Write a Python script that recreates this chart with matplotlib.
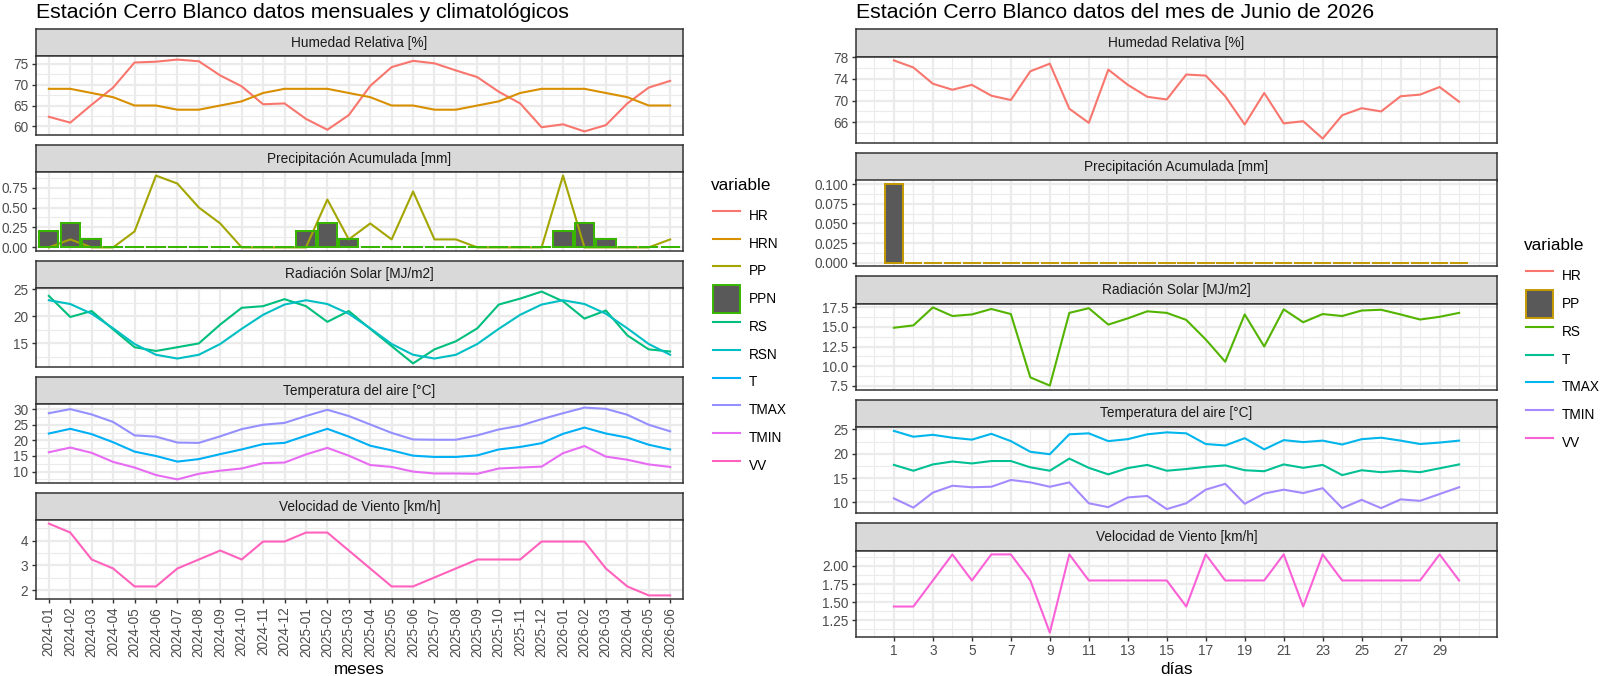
import numpy as np
import matplotlib
matplotlib.use("Agg")
import matplotlib.pyplot as plt
from matplotlib.lines import Line2D
from matplotlib.patches import Patch
from matplotlib.ticker import MultipleLocator, AutoMinorLocator, FormatStrFormatter, FixedLocator

plt.rcParams['font.family'] = ['Liberation Sans', 'DejaVu Sans']

W, H = 1600, 676

# ===== datos mensuales =====
meses = ['2024-01', '2024-02', '2024-03', '2024-04', '2024-05', '2024-06',
         '2024-07', '2024-08', '2024-09', '2024-10', '2024-11', '2024-12',
         '2025-01', '2025-02', '2025-03', '2025-04', '2025-05', '2025-06',
         '2025-07', '2025-08', '2025-09', '2025-10', '2025-11', '2025-12',
         '2026-01', '2026-02', '2026-03', '2026-04', '2026-05', '2026-06']
hr_m = [62.3, 60.9, 65.2, 69.3, 75.3, 75.5, 76.0, 75.6, 72.2, 69.6, 65.3, 65.5,
        61.8, 59.2, 62.7, 69.7, 74.2, 75.7, 75.1, 73.4, 71.8, 68.3, 65.5, 59.8,
        60.5, 58.8, 60.3, 65.5, 69.3, 70.9]
hrn_m = [69, 69, 68, 67, 65, 65, 64, 64, 65, 66, 68, 69,
         69, 69, 68, 67, 65, 65, 64, 64, 65, 66, 68, 69,
         69, 69, 68, 67, 65, 65]
pp_m = [0, 0.1, 0, 0, 0.2, 0.9, 0.8, 0.5, 0.3, 0, 0, 0,
        0, 0.6, 0.1, 0.3, 0.1, 0.7, 0.1, 0.1, 0, 0, 0, 0,
        0.9, 0, 0, 0, 0, 0.1]
ppn_m = [0.2, 0.3, 0.1, 0, 0, 0, 0, 0, 0, 0, 0, 0,
         0.2, 0.3, 0.1, 0, 0, 0, 0, 0, 0, 0, 0, 0,
         0.2, 0.3, 0.1, 0, 0, 0]
rs_m = [23.8, 19.9, 21.0, 17.6, 14.3, 13.6, 14.3, 15.0, 18.5, 21.6, 21.9, 23.2,
        21.9, 19.0, 21.0, 17.7, 14.5, 11.3, 13.9, 15.4, 17.8, 22.2, 23.3, 24.6,
        22.8, 19.6, 21.1, 16.5, 13.9, 13.5]
rsn_m = [23.0, 22.3, 20.5, 17.8, 14.9, 12.9, 12.2, 12.9, 14.9, 17.7, 20.3, 22.2,
         23.0, 22.3, 20.5, 17.8, 14.9, 12.9, 12.2, 12.9, 14.9, 17.7, 20.3, 22.2,
         23.0, 22.3, 20.5, 17.8, 14.9, 12.9]
t_m = [22.2, 23.7, 22.0, 19.4, 16.4, 15.0, 13.2, 14.0, 15.6, 17.1, 18.8, 19.2,
       21.5, 23.7, 21.2, 18.3, 16.8, 15.1, 14.7, 14.7, 15.2, 17.1, 17.9, 19.1,
       22.1, 24.1, 22.2, 20.9, 18.6, 17.1]
tmax_m = [28.7, 30.0, 28.3, 25.9, 21.6, 21.2, 19.3, 19.2, 21.3, 23.6, 25.0, 25.6,
          27.8, 29.8, 27.8, 25.1, 22.4, 20.3, 20.2, 20.2, 21.6, 23.5, 24.7, 26.8,
          28.7, 30.5, 30.1, 28.2, 25.0, 22.9]
tmin_m = [16.2, 17.7, 16.0, 13.1, 11.3, 8.9, 7.5, 9.3, 10.3, 11.0, 12.7, 12.9,
          15.5, 17.6, 15.1, 12.1, 11.5, 10.0, 9.4, 9.4, 9.3, 11.0, 11.3, 11.6,
          15.9, 18.2, 14.8, 13.8, 12.3, 11.5]
vv_m = [4.68, 4.32, 3.24, 2.88, 2.16, 2.16, 2.88, 3.24, 3.60, 3.24, 3.96, 3.96,
        4.32, 4.32, 3.60, 2.88, 2.16, 2.16, 2.52, 2.88, 3.24, 3.24, 3.24, 3.96,
        3.96, 3.96, 2.88, 2.16, 1.80, 1.80]

# ===== datos diarios (junio 2026) =====
dias = list(range(1, 31))
hr_d = [77.4, 76.1, 73.1, 72.0, 72.9, 70.9, 70.1, 75.4, 76.8, 68.5, 65.9, 75.7,
        72.9, 70.7, 70.2, 74.8, 74.6, 70.8, 65.6, 71.4, 65.8, 66.2, 63.0, 67.3,
        68.6, 68.0, 70.8, 71.1, 72.5, 69.8]
pp_d = [0.1, 0, 0, 0, 0, 0, 0, 0, 0, 0, 0, 0, 0, 0, 0,
        0, 0, 0, 0, 0, 0, 0, 0, 0, 0, 0, 0, 0, 0, 0]
rs_d = [14.9, 15.2, 17.5, 16.4, 16.6, 17.3, 16.65, 8.55, 7.5, 16.8, 17.4, 15.3,
        16.1, 17.0, 16.8, 15.9, 13.4, 10.55, 16.6, 12.5, 17.25, 15.6, 16.65, 16.4,
        17.1, 17.2, 16.6, 15.95, 16.3, 16.8]
t_d = [17.7, 16.5, 17.8, 18.4, 18.0, 18.5, 18.5, 17.2, 16.5, 19.0, 17.1, 15.75,
       17.05, 17.7, 16.5, 16.85, 17.3, 17.6, 16.6, 16.4, 17.8, 17.1, 17.7, 15.6,
       16.6, 16.2, 16.5, 16.2, 17.0, 17.8]
tmax_d = [24.7, 23.5, 23.9, 23.3, 22.9, 24.1, 22.6, 20.4, 19.9, 24.0, 24.2, 22.6,
          23.0, 24.0, 24.4, 24.2, 22.0, 21.7, 23.2, 20.9, 22.8, 22.4, 22.7, 21.9,
          23.0, 23.3, 22.7, 22.0, 22.3, 22.7]
tmin_d = [10.8, 8.9, 12.0, 13.4, 13.1, 13.2, 14.6, 14.1, 13.2, 14.1, 9.8, 9.0,
          11.0, 11.3, 8.6, 9.8, 12.6, 13.8, 9.7, 11.8, 12.6, 11.9, 12.9, 8.8,
          10.5, 8.8, 10.6, 10.3, 11.7, 13.1]
vv_d = [1.44, 1.44, 1.80, 2.16, 1.80, 2.16, 2.16, 1.80, 1.08, 2.16, 1.80, 1.80,
        1.80, 1.80, 1.80, 1.44, 2.16, 1.80, 1.80, 1.80, 2.16, 1.44, 2.16, 1.80,
        1.80, 1.80, 1.80, 1.80, 2.16, 1.80]

# ===== colores (paleta hue de ggplot) =====
COL_M = {'HR': '#F8766D', 'HRN': '#D89000', 'PP': '#A3A500', 'PPN': '#39B600',
         'RS': '#00BF7D', 'RSN': '#00BFC4', 'T': '#00B0F6', 'TMAX': '#9590FF',
         'TMIN': '#E76BF3', 'VV': '#FF62BC'}
COL_D = {'HR': '#F8766D', 'PP': '#C49A00', 'RS': '#53B400', 'T': '#00C094',
         'TMAX': '#00B6EB', 'TMIN': '#A58AFF', 'VV': '#FB61D7'}
BAR_FILL = '#595959'
BORDER = '#333333'
GRID = '#EBEBEB'
LW = 1.5
FS = 9.85

fig = plt.figure(figsize=(W / 100, H / 100), dpi=100)


def box(l, t, r, b):
    return [l / W, 1 - b / H, (r - l) / W, (b - t) / H]


def make_panel(l, r, top, strip_h, panel_h, label):
    sax = fig.add_axes(box(l, top, r, top + strip_h))
    sax.set_facecolor('#D9D9D9')
    sax.set_xticks([])
    sax.set_yticks([])
    for s in sax.spines.values():
        s.set_color(BORDER)
        s.set_linewidth(1.1)
    sax.text(0.5, 0.5, label, ha='center', va='center', fontsize=FS,
             color='#1A1A1A', transform=sax.transAxes)
    ax = fig.add_axes(box(l, top + strip_h, r, top + strip_h + panel_h))
    for s in ax.spines.values():
        s.set_color(BORDER)
        s.set_linewidth(1.1)
        s.set_zorder(5)
    return ax


def style_y(ax, values, step, fmt, offset=0.0):
    lo, hi = np.min(values), np.max(values)
    pad = 0.05 * (hi - lo)
    ax.set_ylim(lo - pad, hi + pad)
    ax.yaxis.set_major_locator(MultipleLocator(step, offset=offset))
    ax.yaxis.set_minor_locator(AutoMinorLocator(2))
    ax.yaxis.set_major_formatter(FormatStrFormatter(fmt))
    ax.grid(which='major', color=GRID, lw=1.6)
    ax.grid(which='minor', color=GRID, lw=0.8)
    ax.set_axisbelow(True)
    ax.tick_params(which='major', length=3.1, width=1.0, color=BORDER,
                   labelsize=FS, labelcolor='#4D4D4D', pad=2.5)
    ax.tick_params(which='minor', length=0)


# ===== panel izquierdo: mensual =====
LX0, LX1 = 36, 683
l_tops = [29, 145, 261, 377, 493]
xm = np.arange(len(meses))

ax_m = []
titles_f = ['Humedad Relativa [%]', 'Precipitación Acumulada [mm]',
            'Radiación Solar [MJ/m2]', 'Temperatura del aire [°C]',
            'Velocidad de Viento [km/h]']
for top, lab in zip(l_tops, titles_f):
    ax_m.append(make_panel(LX0, LX1, top, 27, 79, lab))

a = ax_m[0]
a.plot(xm, hr_m, color=COL_M['HR'], lw=LW, zorder=3)
a.plot(xm, hrn_m, color=COL_M['HRN'], lw=LW, zorder=3)
style_y(a, hr_m + hrn_m, 5, '%d')

a = ax_m[1]
a.bar(xm, ppn_m, width=0.9, color=BAR_FILL, edgecolor=COL_M['PPN'], lw=1.4, zorder=2)
a.plot(xm, pp_m, color=COL_M['PP'], lw=LW, zorder=3)
a.bar(xm, ppn_m, width=0.9, fill=False, edgecolor=COL_M['PPN'], lw=1.4, zorder=4)
style_y(a, pp_m + ppn_m, 0.25, '%.2f')

a = ax_m[2]
a.plot(xm, rs_m, color=COL_M['RS'], lw=LW, zorder=3)
a.plot(xm, rsn_m, color=COL_M['RSN'], lw=LW, zorder=3)
style_y(a, rs_m + rsn_m, 5, '%d')

a = ax_m[3]
a.plot(xm, t_m, color=COL_M['T'], lw=LW, zorder=3)
a.plot(xm, tmax_m, color=COL_M['TMAX'], lw=LW, zorder=3)
a.plot(xm, tmin_m, color=COL_M['TMIN'], lw=LW, zorder=3)
style_y(a, t_m + tmax_m + tmin_m, 5, '%d')

a = ax_m[4]
a.plot(xm, vv_m, color=COL_M['VV'], lw=LW, zorder=3)
style_y(a, vv_m, 1, '%d')

for i, a in enumerate(ax_m):
    a.set_xlim(-0.6, len(meses) - 0.4)
    a.set_xticks(xm)
    if i < len(ax_m) - 1:
        a.tick_params(axis='x', length=0, labelbottom=False)
    else:
        a.set_xticklabels(meses, rotation=90, ha='center', va='top')

# ===== panel derecho: diario =====
RX0, RX1 = 856, 1497
r_tops = [29, 153, 276, 399.5, 523]
ax_d = []
for top, lab in zip(r_tops, titles_f):
    ax_d.append(make_panel(RX0, RX1, top, 27.5, 86, lab))

a = ax_d[0]
a.plot(dias, hr_d, color=COL_D['HR'], lw=LW, zorder=3)
style_y(a, hr_d, 4, '%d', offset=2)

a = ax_d[1]
a.bar(dias, pp_d, width=0.9, color=BAR_FILL, edgecolor=COL_D['PP'], lw=1.4, zorder=3)
style_y(a, pp_d, 0.025, '%.3f')

a = ax_d[2]
a.plot(dias, rs_d, color=COL_D['RS'], lw=LW, zorder=3)
style_y(a, rs_d, 2.5, '%.1f')

a = ax_d[3]
a.plot(dias, t_d, color=COL_D['T'], lw=LW, zorder=3)
a.plot(dias, tmax_d, color=COL_D['TMAX'], lw=LW, zorder=3)
a.plot(dias, tmin_d, color=COL_D['TMIN'], lw=LW, zorder=3)
style_y(a, t_d + tmax_d + tmin_d, 5, '%d')

a = ax_d[4]
a.plot(dias, vv_d, color=COL_D['VV'], lw=LW, zorder=3)
style_y(a, vv_d, 0.25, '%.2f')

x_lo, x_hi = dias[0] - 0.45, dias[-1] + 0.45
x_pad = 0.05 * (x_hi - x_lo)
for i, a in enumerate(ax_d):
    a.set_xlim(x_lo - x_pad, x_hi + x_pad)
    a.xaxis.set_major_locator(FixedLocator(dias[::2]))
    a.xaxis.set_minor_locator(MultipleLocator(1))
    if i < len(ax_d) - 1:
        a.tick_params(axis='x', which='major', length=0, labelbottom=False)

# ===== títulos =====
fig.text(LX0 / W, 1 - 18 / H, 'Estación Cerro Blanco datos mensuales y climatológicos',
         fontsize=15.3, ha='left', va='baseline')
fig.text(RX0 / W, 1 - 18 / H, 'Estación Cerro Blanco datos del mes de Junio de 2026',
         fontsize=15.3, ha='left', va='baseline')
fig.text((LX0 + LX1) / 2 / W, 1 - 670 / H, 'meses', fontsize=12.3, ha='center', va='center')
fig.text((RX0 + RX1) / 2 / W, 1 - 670 / H, 'días', fontsize=12.3, ha='center', va='center')


# ===== leyendas =====
def legend_at(colors, patch_key, x, y_title, y_rows):
    handles, labels = [], []
    for k, c in colors.items():
        if k == patch_key:
            handles.append(Patch(facecolor=BAR_FILL, edgecolor=c, lw=1.4))
        else:
            handles.append(Line2D([], [], color=c, lw=LW))
        labels.append(k)
    fig.text(x / W, 1 - y_title / H, 'variable', fontsize=12.3, ha='left', va='center')
    fig.legend(handles, labels, loc='upper left', bbox_to_anchor=((x + 2) / W, 1 - y_rows / H),
               frameon=False, fontsize=FS, handlelength=2.0, handleheight=2.7,
               labelspacing=0.03, handletextpad=0.6, borderpad=0, borderaxespad=0)


legend_at(COL_M, 'PPN', 711, 185, 202)
legend_at(COL_D, 'PP', 1524, 246, 262.5)

fig.savefig('out.png', dpi=100)
